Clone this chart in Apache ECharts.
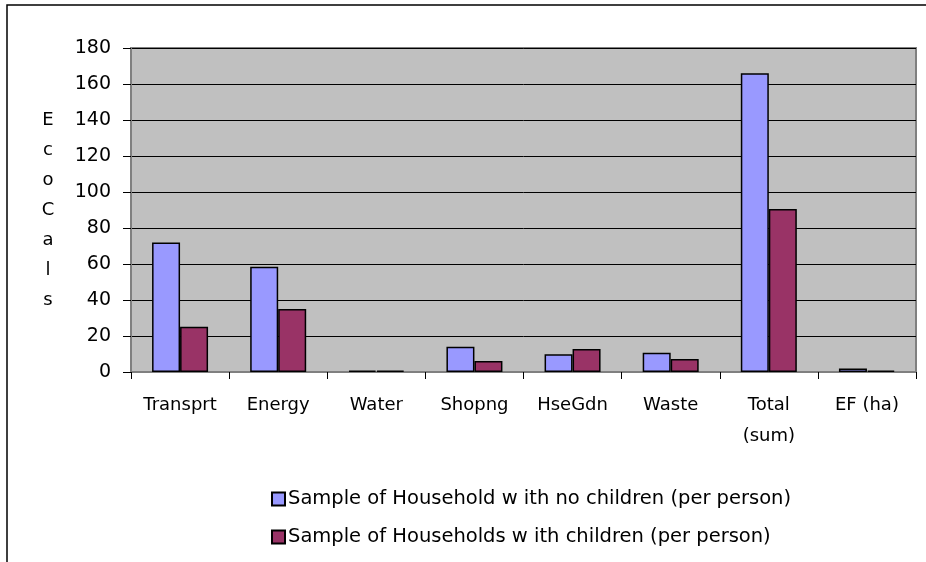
<!DOCTYPE html>
<html><head><meta charset="utf-8">
<script src="https://cdn.jsdelivr.net/npm/echarts@6/dist/echarts.min.js"></script>
<style>html,body{margin:0;padding:0;background:#fff}#c{width:926px;height:562px}</style>
</head><body><div id="c"></div>
<script>
const categories = ['Transprt','Energy','Water','Shopng','HseGdn','Waste','Total\n(sum)','EF (ha)'];
const noChildren = [72, 58.5, 0.8, 14, 9.8, 10.7, 166, 1.9];
const withChildren = [25.2, 35, 0.7, 6.1, 12.8, 7.2, 90.6, 0.8];
const seriesNames = ['Sample of Household w ith no children (per person)','Sample of Households w ith children (per person)'];
const yTitle = 'EcoCals';

const chart = echarts.init(document.getElementById('c'));
const font = '"DejaVu Sans", "Liberation Sans", Arial, sans-serif';
chart.setOption({
  animation:false,
  textStyle:{fontFamily:font,color:'#000'},
  graphic:[{type:'rect',shape:{x:7,y:5,width:940,height:580},style:{fill:'none',stroke:'#000',lineWidth:1.5},silent:true}],
  grid:{left:131,right:10,top:48,bottom:190,show:true,backgroundColor:'#C0C0C0',borderColor:'#808080',borderWidth:2},
  legend:{orient:'vertical',left:266,top:484,itemWidth:13,itemHeight:13,itemGap:18,icon:'rect',
    textStyle:{fontSize:19.5,fontFamily:font,color:'#000',padding:[0,0,0,-2]},
    data:seriesNames},
  xAxis:{type:'category',data:categories,
    axisLine:{lineStyle:{color:'#808080',width:2}},
    axisTick:{show:true,length:7,lineStyle:{color:'#000'}},
    axisLabel:{fontSize:18,fontFamily:font,color:'#000',margin:18,lineHeight:31}},
  yAxis:{type:'value',min:0,max:180,interval:20,
    name:yTitle.split('').join('\n'),nameLocation:'middle',nameRotate:0,nameGap:83,
    nameTextStyle:{fontSize:18,fontFamily:font,color:'#000',lineHeight:30,align:'center',padding:[6,0,0,0]},
    axisLine:{show:true,lineStyle:{color:'#808080',width:2}},
    axisTick:{show:true,length:8,lineStyle:{color:'#000'}},
    axisLabel:{fontSize:19,fontFamily:font,color:'#000',margin:20},
    splitLine:{show:true,lineStyle:{color:'#000',width:1}}},
  series:[
    {name:seriesNames[0],type:'bar',data:noChildren,barWidth:28,barGap:'0%',
     itemStyle:{color:'#9999FF',borderColor:'#000',borderWidth:1.5}},
    {name:seriesNames[1],type:'bar',data:withChildren,barWidth:28,barGap:'0%',
     itemStyle:{color:'#993366',borderColor:'#000',borderWidth:1.5}}
  ]
});
</script></body></html>
